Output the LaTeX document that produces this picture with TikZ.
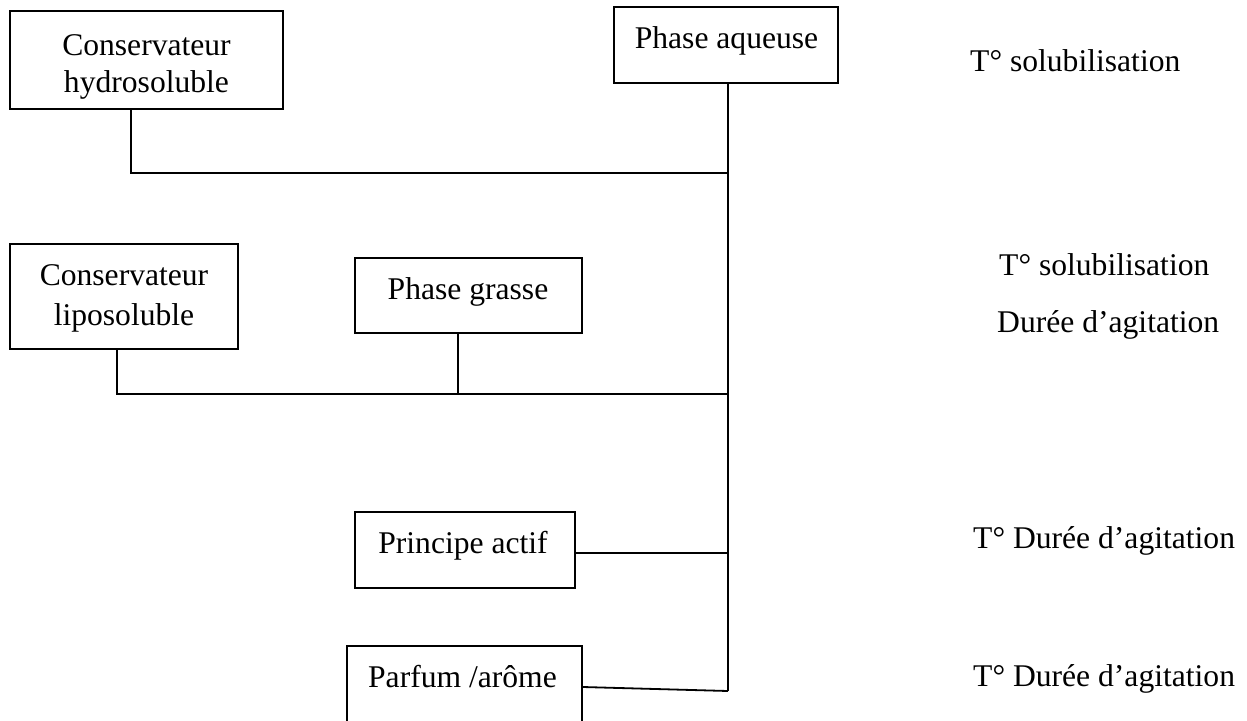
\documentclass[tikz,border=0pt]{standalone}
\usepackage{fontspec}
\setmainfont{Liberation Serif}
\begin{document}
\tikzset{
  box/.style={draw, line width=1.8pt, rectangle, inner sep=0pt},
  lbl/.style={inner sep=0pt, anchor=base, font=\fontsize{31.6pt}{38pt}\selectfont},
  lbw/.style={lbl, anchor=base west},
  conn/.style={line width=1.8pt}
}
\begin{tikzpicture}[x=1pt,y=-1pt]
\useasboundingbox (0,0) rectangle (1247,720);
% boxes
\node[box, minimum width=273pt, minimum height=98pt] (hyd) at (146.5,60) {};
\node[lbl] (hydt1) at (146.5,55) {Conservateur};
\node[lbl] (hydt2) at (146.5,92) {hydrosoluble};
\node[box, minimum width=224pt, minimum height=76pt] (aq) at (726,45) {};
\node[lbl] (aqt) at (726.5,48) {Phase aqueuse};
\node[box, minimum width=228pt, minimum height=105pt] (lip) at (124,296.5) {};
\node[lbl] (lipt1) at (124,285) {Conservateur};
\node[lbl] (lipt2) at (124,325) {liposoluble};
\node[box, minimum width=227pt, minimum height=75pt] (gr) at (468.5,295.5) {};
\node[lbl] (grt) at (468,299) {Phase grasse};
\node[box, minimum width=220pt, minimum height=76pt] (pa) at (465,550) {};
\node[lbl] (pat) at (463,553) {Principe actif};
\node[box, minimum width=235pt, minimum height=80pt] (pf) at (464.5,686) {};
\node[lbl] (pft) at (462.5,687) {Parfum /arôme};
% junctions
\coordinate (j1) at (728,173);
\coordinate (j2) at (728,394);
\coordinate (j3) at (728,553);
\coordinate (j4) at (728,691);
% connectors
\draw[conn] ([xshift=2pt]aq.south) -- (j4);
\draw[conn] ([xshift=-15.5pt]hyd.south) |- (j1);
\draw[conn] ([xshift=-7pt]lip.south) |- (j2);
\draw[conn] ([xshift=-10.5pt]gr.south) -- ([xshift=-10.5pt]gr.south |- j2);
\draw[conn] (pa.east |- j3) -- (j3);
\draw[conn] ([yshift=-1pt]pf.east) -- (j4);
% right-hand labels
\node[lbw] (r1) at (970,71) {T° solubilisation};
\node[lbw] (r2) at (999,275) {T° solubilisation};
\node[lbw] (r3) at (997,332) {Durée d’agitation};
\node[lbw] (r4) at (973,548) {T° Durée d’agitation};
\node[lbw] (r5) at (973,686) {T° Durée d’agitation};
\end{tikzpicture}
\end{document}
